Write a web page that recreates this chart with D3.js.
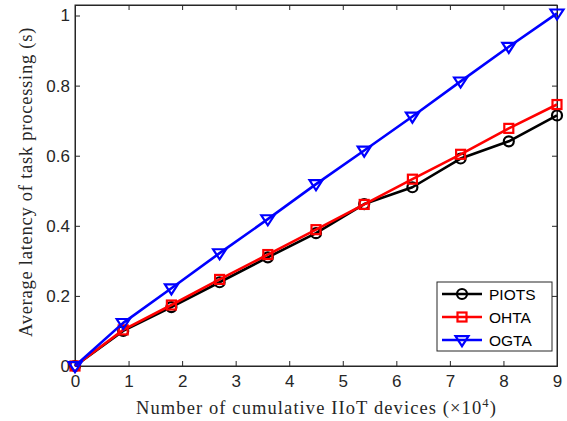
<!DOCTYPE html>
<html><head><meta charset="utf-8">
<script src="https://cdn.jsdelivr.net/npm/d3@7"></script>
<style>body{margin:0;background:#fff}svg{display:block}</style>
</head><body>
<svg id="c" width="567" height="421"></svg>
<script>
const xValues = [0, 0.9, 1.8, 2.7, 3.6, 4.5, 5.4, 6.3, 7.2, 8.1, 9];
const piots = [0, 0.100, 0.168, 0.239, 0.310, 0.379, 0.462, 0.510, 0.592, 0.641, 0.715];
const ohta  = [0, 0.103, 0.174, 0.247, 0.318, 0.389, 0.461, 0.533, 0.604, 0.678, 0.746];
const ogta  = [0, 0.123, 0.222, 0.322, 0.419, 0.519, 0.615, 0.712, 0.812, 0.911, 1.006];
const xTicks = [0,1,2,3,4,5,6,7,8,9];
const yTicks = [0,0.2,0.4,0.6,0.8,1];
const seriesNames = ["PIOTS","OHTA","OGTA"];
const seriesColors = ["#000000","#ff0000","#0000ff"];
const seriesMarkers = ["circle","square","triangle"];

const svg = d3.select("#c");
const L=75, R=557, T=5, B=366;
const x = d3.scaleLinear().domain([0,9]).range([L,R]);
const y = d3.scaleLinear().domain([0,1.03]).range([B,T]);
const axisCol = "#262626";
const tickFont = "Liberation Sans, Arial, Helvetica, sans-serif";

svg.append("rect").attr("x",L).attr("y",T).attr("width",R-L).attr("height",B-T)
  .attr("fill","none").attr("stroke",axisCol).attr("stroke-width",1);

const gx = svg.append("g").attr("transform",`translate(0,${B})`)
  .call(d3.axisBottom(x).tickValues(xTicks).tickSize(-5).tickPadding(9).tickFormat(d3.format("d")));
const gxt = svg.append("g").attr("transform",`translate(0,${T})`)
  .call(d3.axisTop(x).tickValues(xTicks).tickSize(-5).tickFormat(""));
const gy = svg.append("g").attr("transform",`translate(${L},0)`)
  .call(d3.axisLeft(y).tickValues(yTicks).tickSize(-5).tickPadding(5).tickFormat(d=>d===0?"0":d===1?"1":d3.format(".1f")(d)));
const gyr = svg.append("g").attr("transform",`translate(${R},0)`)
  .call(d3.axisRight(y).tickValues(yTicks).tickSize(-5).tickFormat(""));
[gx,gxt,gy,gyr].forEach(g=>{
  g.select(".domain").attr("stroke",axisCol);
  g.selectAll(".tick line").attr("stroke",axisCol);
  g.selectAll("text").attr("font-family",tickFont).attr("font-size",17).attr("fill","#262626");
});

const data = [piots, ohta, ogta];
const line = d3.line().x((d,i)=>x(xValues[i])).y(d=>y(d));

function drawMarker(g, type, cx, cy, color){
  if(type==="circle"){
    g.append("circle").attr("cx",cx).attr("cy",cy).attr("r",5)
      .attr("fill","none").attr("stroke",color).attr("stroke-width",2.2);
  } else if(type==="square"){
    g.append("rect").attr("x",cx-4.5).attr("y",cy-4.5).attr("width",9).attr("height",9)
      .attr("fill","none").attr("stroke",color).attr("stroke-width",2.2);
  } else {
    const s=6.5;
    g.append("path").attr("d",`M${cx-s},${cy-s*0.6}L${cx+s},${cy-s*0.6}L${cx},${cy+s*0.95}Z`)
      .attr("fill","none").attr("stroke",color).attr("stroke-width",2.2);
  }
}

data.forEach((vals,k)=>{
  const g = svg.append("g");
  g.append("path").datum(vals).attr("d",line).attr("fill","none")
    .attr("stroke",seriesColors[k]).attr("stroke-width",2.6).attr("stroke-linejoin","round");
  vals.forEach((v,i)=>drawMarker(g, seriesMarkers[k], x(xValues[i]), y(v), seriesColors[k]));
});

const lg = svg.append("g");
lg.append("rect").attr("x",437).attr("y",282).attr("width",115).attr("height",69)
  .attr("fill","#fff").attr("stroke",axisCol).attr("stroke-width",1);
seriesNames.forEach((n,k)=>{
  const ly = 294 + k*23;
  lg.append("line").attr("x1",442).attr("x2",482).attr("y1",ly).attr("y2",ly)
    .attr("stroke",seriesColors[k]).attr("stroke-width",2.6);
  drawMarker(lg, seriesMarkers[k], 462, ly, seriesColors[k]);
  lg.append("text").attr("x",489).attr("y",ly+5.5).text(n)
    .attr("font-family",tickFont).attr("font-size",15.5).attr("fill","#000");
});

const serif = "Liberation Serif, Times New Roman, serif";
const xl = svg.append("text").attr("x",316.5).attr("y",414).attr("text-anchor","middle")
  .attr("font-family",serif).attr("font-size",18.5).attr("letter-spacing",1.1).attr("fill","#262626");
xl.append("tspan").text("Number of cumulative IIoT devices (×10");
xl.append("tspan").text("4").attr("font-size",12.5).attr("dy",-7);
xl.append("tspan").text(")").attr("dy",7);

svg.append("text").attr("transform",`translate(32,182) rotate(-90)`)
  .attr("text-anchor","middle").attr("font-family",serif).attr("font-size",18.5)
  .attr("letter-spacing",0.75).attr("fill","#262626")
  .text("Average latency of task processing (s)");
</script>
</body></html>
